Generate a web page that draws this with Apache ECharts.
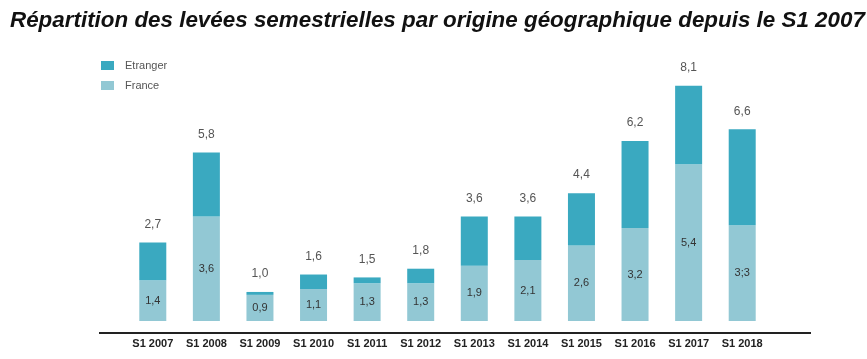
<!DOCTYPE html>
<html><head><meta charset="utf-8">
<script src="https://cdn.jsdelivr.net/npm/echarts@6/dist/echarts.min.js"></script>
<style>html,body{margin:0;padding:0;background:#fff}#c{width:867px;height:359px}</style>
</head><body><div id="c"></div>
<script>
const categories = ['S1 2007','S1 2008','S1 2009','S1 2010','S1 2011','S1 2012','S1 2013','S1 2014','S1 2015','S1 2016','S1 2017','S1 2018'];
const france = [1.4, 3.6, 0.9, 1.1, 1.3, 1.3, 1.9, 2.1, 2.6, 3.2, 5.4, 3.3];
const etranger = [1.3, 2.2, 0.1, 0.5, 0.2, 0.5, 1.7, 1.5, 1.8, 3.0, 2.7, 3.3];
const totalLabels = ['2,7','5,8','1,0','1,6','1,5','1,8','3,6','3,6','4,4','6,2','8,1','6,6'];
const franceLabels = ['1,4','3,6','0,9','1,1','1,3','1,3','1,9','2,1','2,6','3,2','5,4','3;3'];

const chart = echarts.init(document.getElementById('c'));
chart.setOption({
  animation: false,
  title: {
    text: 'Répartition des levées semestrielles par origine géographique depuis le S1 2007',
    left: 5, top: 5,
    textStyle: {fontFamily: 'Liberation Sans', fontStyle: 'italic', fontWeight: 'bold', fontSize: 22.4, color: '#111'}
  },
  legend: {
    orient: 'vertical', left: 96, top: 55, itemWidth: 13, itemHeight: 9, itemGap: 9,
    icon: 'rect',
    textStyle: {fontFamily: 'Liberation Sans', fontSize: 11, color: '#555', padding: [0,0,0,6]},
    data: ['Etranger', 'France']
  },
  grid: {left: 126, right: 98, top: 30.5, bottom: 38},
  xAxis: {
    type: 'category', data: categories,
    axisLine: {show: false}, axisTick: {show: false},
    axisLabel: {margin: 17, fontFamily: 'Liberation Sans', fontWeight: 'bold', fontSize: 11, color: '#222'}
  },
  yAxis: {type: 'value', min: 0, max: 10, show: false, splitLine: {show: false}},
  graphic: [{
    type: 'line', shape: {x1: 99, y1: 333, x2: 811, y2: 333},
    style: {stroke: '#222', lineWidth: 2}
  }],
  series: [
    {
      name: 'France', type: 'bar', stack: 't', data: france, barWidth: 27,
      itemStyle: {color: '#92C8D4'},
      label: {show: true, position: 'inside', fontFamily: 'Liberation Sans', fontSize: 11, color: '#333',
        formatter: p => franceLabels[p.dataIndex]}
    },
    {
      name: 'Etranger', type: 'bar', stack: 't', data: etranger, barWidth: 27,
      itemStyle: {color: '#3AA9C0'},
      label: {show: true, position: 'top', distance: 12, fontFamily: 'Liberation Sans', fontSize: 12, color: '#555',
        formatter: p => totalLabels[p.dataIndex]}
    }
  ]
});
</script></body></html>
